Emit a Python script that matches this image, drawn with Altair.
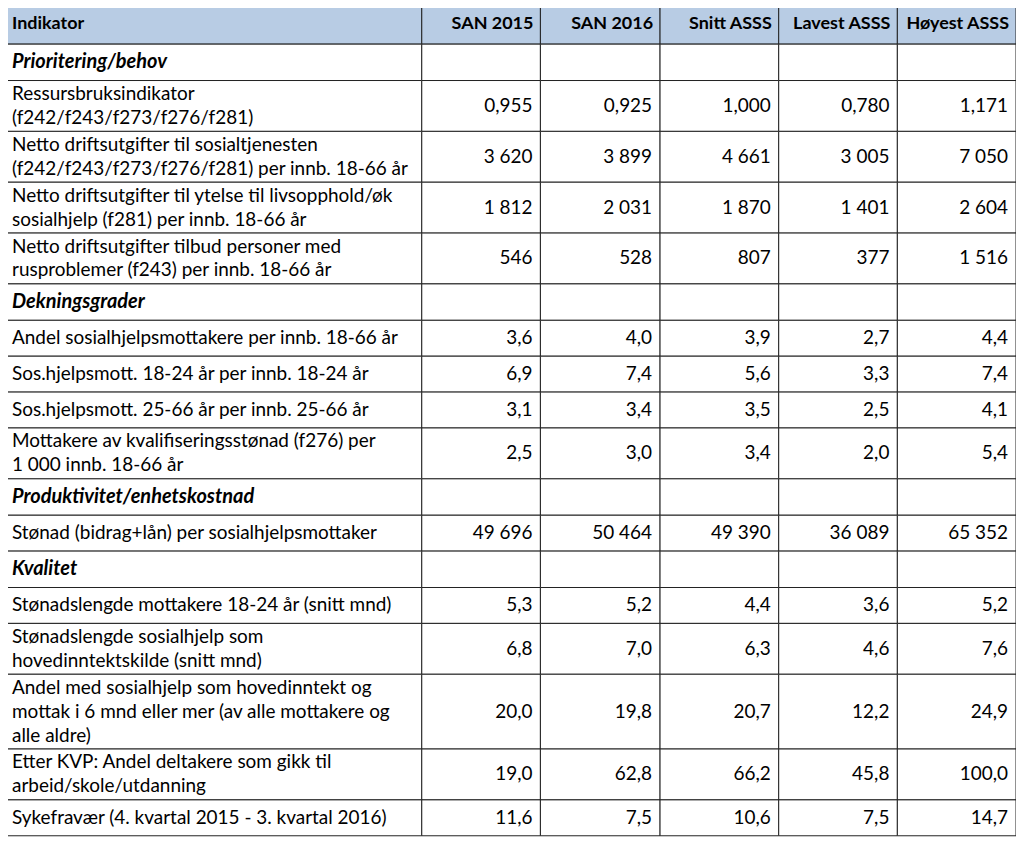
import altair as alt
import pandas as pd

# ---- data -------------------------------------------------------------
kolonner = ["Indikator", "SAN 2015", "SAN 2016", "Snitt ASSS", "Lavest ASSS", "Høyest ASSS"]

indikator = [
    "Prioritering/behov",
    "Ressursbruksindikator\n(f242/f243/f273/f276/f281)",
    "Netto driftsutgifter til sosialtjenesten\n(f242/f243/f273/f276/f281) per innb. 18-66 år",
    "Netto driftsutgifter til ytelse til livsopphold/øk\nsosialhjelp (f281) per innb. 18-66 år",
    "Netto driftsutgifter tilbud personer med\nrusproblemer (f243) per innb. 18-66 år",
    "Dekningsgrader",
    "Andel sosialhjelpsmottakere per innb. 18-66 år",
    "Sos.hjelpsmott. 18-24 år per innb. 18-24 år",
    "Sos.hjelpsmott. 25-66 år per innb. 25-66 år",
    "Mottakere av kvalifiseringsstønad (f276) per\n1 000 innb. 18-66 år",
    "Produktivitet/enhetskostnad",
    "Stønad (bidrag+lån) per sosialhjelpsmottaker",
    "Kvalitet",
    "Stønadslengde mottakere 18-24 år (snitt mnd)",
    "Stønadslengde sosialhjelp som\nhovedinntektskilde (snitt mnd)",
    "Andel med sosialhjelp som hovedinntekt og\nmottak i 6 mnd eller mer (av alle mottakere og\nalle aldre)",
    "Etter KVP: Andel deltakere som gikk til\narbeid/skole/utdanning",
    "Sykefravær (4. kvartal 2015 - 3. kvartal 2016)",
]

san_2015 = [None, 0.955, 3620, 1812, 546, None, 3.6, 6.9, 3.1, 2.5, None, 49696, None, 5.3, 6.8, 20.0, 19.0, 11.6]
san_2016 = [None, 0.925, 3899, 2031, 528, None, 4.0, 7.4, 3.4, 3.0, None, 50464, None, 5.2, 7.0, 19.8, 62.8, 7.5]
snitt_asss = [None, 1.000, 4661, 1870, 807, None, 3.9, 5.6, 3.5, 3.4, None, 49390, None, 4.4, 6.3, 20.7, 66.2, 10.6]
lavest_asss = [None, 0.780, 3005, 1401, 377, None, 2.7, 3.3, 2.5, 2.0, None, 36089, None, 3.6, 4.6, 12.2, 45.8, 7.5]
hoyest_asss = [None, 1.171, 7050, 2604, 1516, None, 4.4, 7.4, 4.1, 5.4, None, 65352, None, 5.2, 7.6, 24.9, 100.0, 14.7]
desimaler = [None, 3, 0, 0, 0, None, 1, 1, 1, 1, None, 0, None, 1, 1, 1, 1, 1]

# ---- layout (table geometry) -----------------------------------------
col_edges = [0, 419, 538, 658, 777, 896, 1015]
TOTAL_W = col_edges[-1]
HEADER_H = 40
CAT_H = 36.5
ROW_H = {1: 36, 2: 51, 3: 75}
LH = 24

FONT = "Lato"
FS = 19
FS_HEAD = 18
FS_CAT = 20
TXT = "#000000"
HEAD_FILL = "#B8CCE4"
LINE = "#222222"


def fmt_no(v, d):
    s = f"{v:,.{d}f}"
    return s.replace(",", " ").replace(".", ",")


series = [san_2015, san_2016, snitt_asss, lavest_asss, hoyest_asss]

rows = []
y = HEADER_H
for i, lab in enumerate(indikator):
    is_cat = san_2015[i] is None
    n = lab.count("\n") + 1
    h = CAT_H if is_cat else ROW_H[n]
    rows.append(dict(idx=i, label=lab, cat=is_cat, y0=y, y1=y + h, ym=y + h / 2,
                     yt=y + h / 2 - (n - 1) * LH / 2))
    y += h
TOTAL_H = y

cells, values, labels, heads = [], [], [], []
for c, name in enumerate(kolonner):
    cells.append(dict(x0=col_edges[c], x1=col_edges[c + 1], y0=0, y1=HEADER_H, fill=HEAD_FILL))
    heads.append(dict(x0=col_edges[c], x1=col_edges[c + 1], ym=HEADER_H / 2, text=name,
                      align="left" if c == 0 else "right"))
for r in rows:
    for c in range(len(kolonner)):
        cells.append(dict(x0=col_edges[c], x1=col_edges[c + 1], y0=r["y0"], y1=r["y1"], fill="#ffffff"))
    labels.append(dict(x0=col_edges[0], ym=r["yt"], text=r["label"], cat=r["cat"]))
    if not r["cat"]:
        d = desimaler[r["idx"]]
        for c, s in enumerate(series, start=1):
            values.append(dict(x1=col_edges[c + 1], ym=r["ym"], text=fmt_no(s[r["idx"]], d)))

cells = pd.DataFrame(cells)
values = pd.DataFrame(values)
labels = pd.DataFrame(labels)
heads = pd.DataFrame(heads)

xs = alt.Scale(domain=[0, TOTAL_W], nice=False, zero=False)
ys = alt.Scale(domain=[0, TOTAL_H], nice=False, zero=False, reverse=True)

rect = alt.Chart(cells).mark_rect(stroke=LINE, strokeWidth=1).encode(
    x=alt.X("x0:Q", scale=xs, axis=None),
    x2="x1:Q",
    y=alt.Y("y0:Q", scale=ys, axis=None),
    y2="y1:Q",
    fill=alt.Fill("fill:N", scale=None),
)

head_left = alt.Chart(heads[heads["align"] == "left"]).mark_text(
    align="left", baseline="middle", dx=8, font=FONT, fontSize=FS_HEAD, fontWeight="bold", color=TXT
).encode(x=alt.X("x0:Q", scale=xs, axis=None), y=alt.Y("ym:Q", scale=ys, axis=None), text="text:N")

head_right = alt.Chart(heads[heads["align"] == "right"]).mark_text(
    align="right", baseline="middle", dx=-7, font=FONT, fontSize=FS_HEAD, fontWeight="bold", color=TXT
).encode(x=alt.X("x1:Q", scale=xs, axis=None), y=alt.Y("ym:Q", scale=ys, axis=None), text="text:N")

lab_data = alt.Chart(labels[~labels["cat"]]).mark_text(
    align="left", baseline="middle", dx=8, font=FONT, fontSize=FS, color=TXT,
    lineBreak="\n", lineHeight=LH
).encode(x=alt.X("x0:Q", scale=xs, axis=None), y=alt.Y("ym:Q", scale=ys, axis=None), text="text:N")

lab_cat = alt.Chart(labels[labels["cat"]]).mark_text(
    align="left", baseline="middle", dx=8, font=FONT, fontSize=FS_CAT, fontWeight="bold",
    fontStyle="italic", color=TXT
).encode(x=alt.X("x0:Q", scale=xs, axis=None), y=alt.Y("ym:Q", scale=ys, axis=None), text="text:N")

vals = alt.Chart(values).mark_text(
    align="right", baseline="middle", dx=-8, font=FONT, fontSize=FS, color=TXT
).encode(x=alt.X("x1:Q", scale=xs, axis=None), y=alt.Y("ym:Q", scale=ys, axis=None), text="text:N")

chart = alt.layer(rect, head_left, head_right, lab_data, lab_cat, vals).properties(
    width=TOTAL_W, height=TOTAL_H,
    padding={"left": -4, "top": -5, "right": 0, "bottom": 0},
    autosize="none",
).configure_view(stroke=None)

chart.save("out.html", embed_options={"renderer": "svg", "actions": False})
